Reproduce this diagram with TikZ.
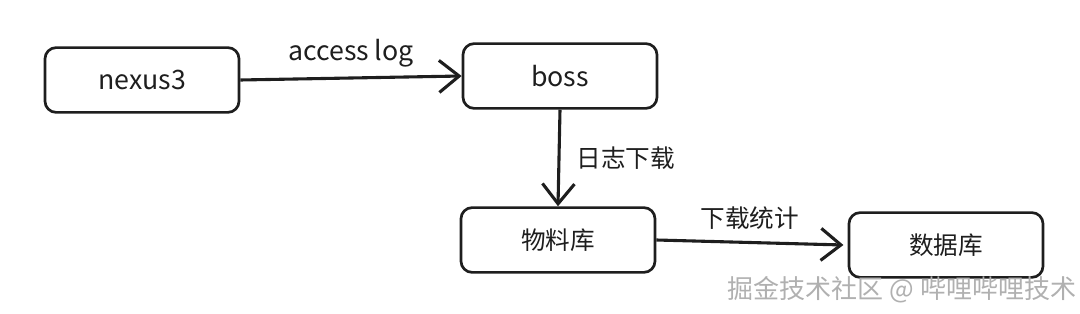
\documentclass[tikz,border=0pt]{standalone}
\usepackage{fontspec}
\setmainfont{Noto Sans CJK SC}
\usepackage{xcolor}
\definecolor{ink}{HTML}{1E1E1E}
\definecolor{mark}{HTML}{B0B0B0}
\usetikzlibrary{arrows.meta, positioning}

\begin{document}
\begin{tikzpicture}[x=0.025cm, y=-0.025cm,
    >={Straight Barb[length=5mm, width=8mm]},
    box/.style={draw=ink, line width=1.9pt, rounded corners=8pt,
        minimum width=4.85cm, minimum height=1.62cm,
        font=\fontsize{17.5}{20}\selectfont, text=ink},
    flow/.style={->, line width=2.2pt, color=ink},
    lbl/.style={font=\fontsize{17.5}{20}\selectfont, text=ink}]
  \useasboundingbox (0,0) rectangle (1080,314);

  \node[box, font=\fontsize{19}{22}\selectfont] (nexus) at (142,80) {nexus3};
  \node[box, font=\fontsize{19}{22}\selectfont] (boss) at (560,76) {boss};
  \node[box] (wuliao) at (558,240) {物料库};
  \node[box] (shuju) at (946,245) {数据库};

  \draw[flow] (nexus.east) -- node[lbl, font=\fontsize{19}{22}\selectfont, above=3pt] {access log} (boss.west);
  \draw[flow] (boss.south) -- node[lbl, right=8pt] {日志下载} (wuliao.north);
  \draw[flow] (wuliao.east) -- node[lbl, above=5pt] {下载统计} ([xshift=-3pt]shuju.west);

  % watermark
  \node[font=\fontsize{18.5}{22}\selectfont, text=mark] (watermark) at (902,290)
    {掘金技术社区 @ 哔哩哔哩技术};
\end{tikzpicture}
\end{document}
